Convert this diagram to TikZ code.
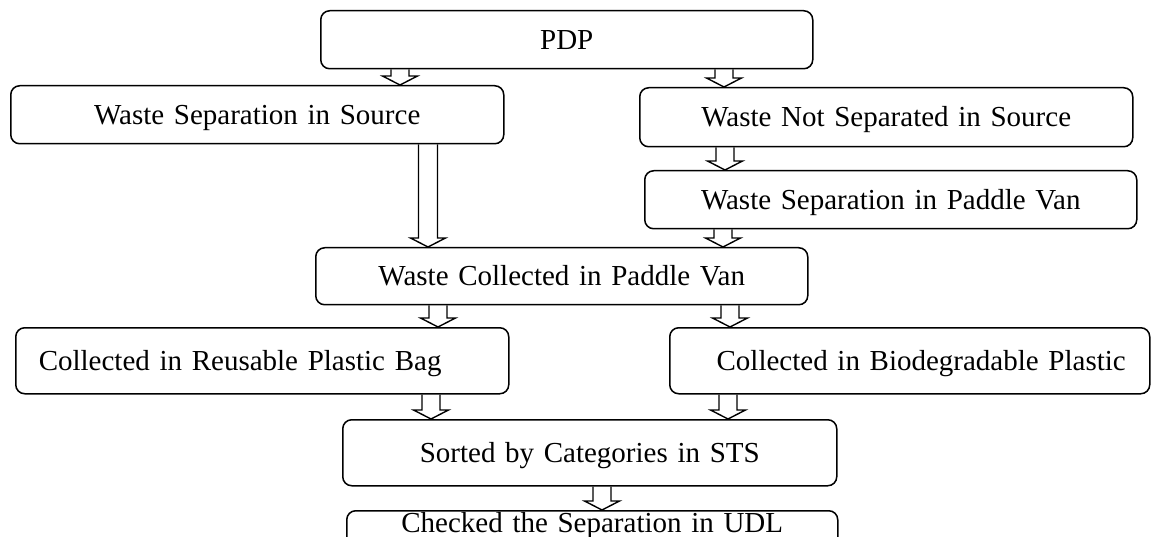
\documentclass[tikz,border=0pt]{standalone}
\usepackage{fontspec}
\setmainfont{Liberation Serif}
\usetikzlibrary{calc}

% hollow block arrow from the bottom of one box to the top of the next,
% at horizontal position #2 (in px); #1 is the half width of the shaft
\newcommand\hollowarrow[4][9]{%
  \draw[harrow] let \p1=(#3.south), \p2=(#4.north) in
    (#2pt-#1pt,\y1) -- (#2pt-#1pt,\y2+9pt) -- (#2pt-17.5pt,\y2+9pt)
    -- (#2pt,\y2) -- (#2pt+17.5pt,\y2+9pt) -- (#2pt+#1pt,\y2+9pt)
    -- (#2pt+#1pt,\y1);}

\begin{document}
\begin{tikzpicture}[x=1pt,y=-1pt,
  box/.style={draw, line width=1.5pt, rounded corners=9pt, anchor=north west,
    inner ysep=0pt, inner xsep=0pt, align=center,
    font=\fontsize{29}{34}\selectfont, text height=19pt, text depth=0pt},
  harrow/.style={draw, line width=1.4pt, line join=miter}]
\useasboundingbox (0,0) rectangle (1151,537);

\node[box, minimum width=492pt, minimum height=58pt, text width=492pt]
  (pdp) at (320,10) {PDP};
\node[box, minimum width=493pt, minimum height=58pt, text width=493pt]
  (wss) at (10,85) {Waste Separation in Source};
\node[box, minimum width=493pt, minimum height=59pt, text width=493pt]
  (wns) at (639,87) {Waste Not Separated in Source};
\node[box, minimum width=492pt, minimum height=58pt, text width=472pt,
  inner xsep=10pt, xshift=10pt]
  (wspv) at (634,170) {Waste Separation in Paddle Van};
\node[box, minimum width=492pt, minimum height=57pt, text width=492pt]
  (wcpv) at (315,247) {Waste Collected in Paddle Van};
\node[box, minimum width=493pt, minimum height=66pt, text width=447pt,
  inner xsep=23pt, align=left]
  (crpb) at (15,327) {Collected in Reusable Plastic Bag};
\node[box, minimum width=480pt, minimum height=66pt, text width=432pt,
  inner xsep=24pt, align=right]
  (cbp) at (669,327) {Collected in Biodegradable Plastic};
\node[box, minimum width=494pt, minimum height=66pt, text width=494pt]
  (sts) at (342,419) {Sorted by Categories in STS};
% last box runs past the lower edge of the page
\node[box, minimum width=491pt, minimum height=40pt, text width=491pt,
  text depth=16pt]
  (udl) at (346,510) {Checked the Separation in UDL};

\hollowarrow{400}{pdp}{wss}
\hollowarrow{724}{pdp}{wns}
\hollowarrow[9.5]{428}{wss}{wcpv}
\hollowarrow{725}{wns}{wspv}
\hollowarrow{723}{wspv}{wcpv}
\hollowarrow{438}{wcpv}{crpb}
\hollowarrow{730}{wcpv}{cbp}
\hollowarrow{431}{crpb}{sts}
\hollowarrow{728}{cbp}{sts}
\hollowarrow{602}{sts}{udl}
\end{tikzpicture}
\end{document}
